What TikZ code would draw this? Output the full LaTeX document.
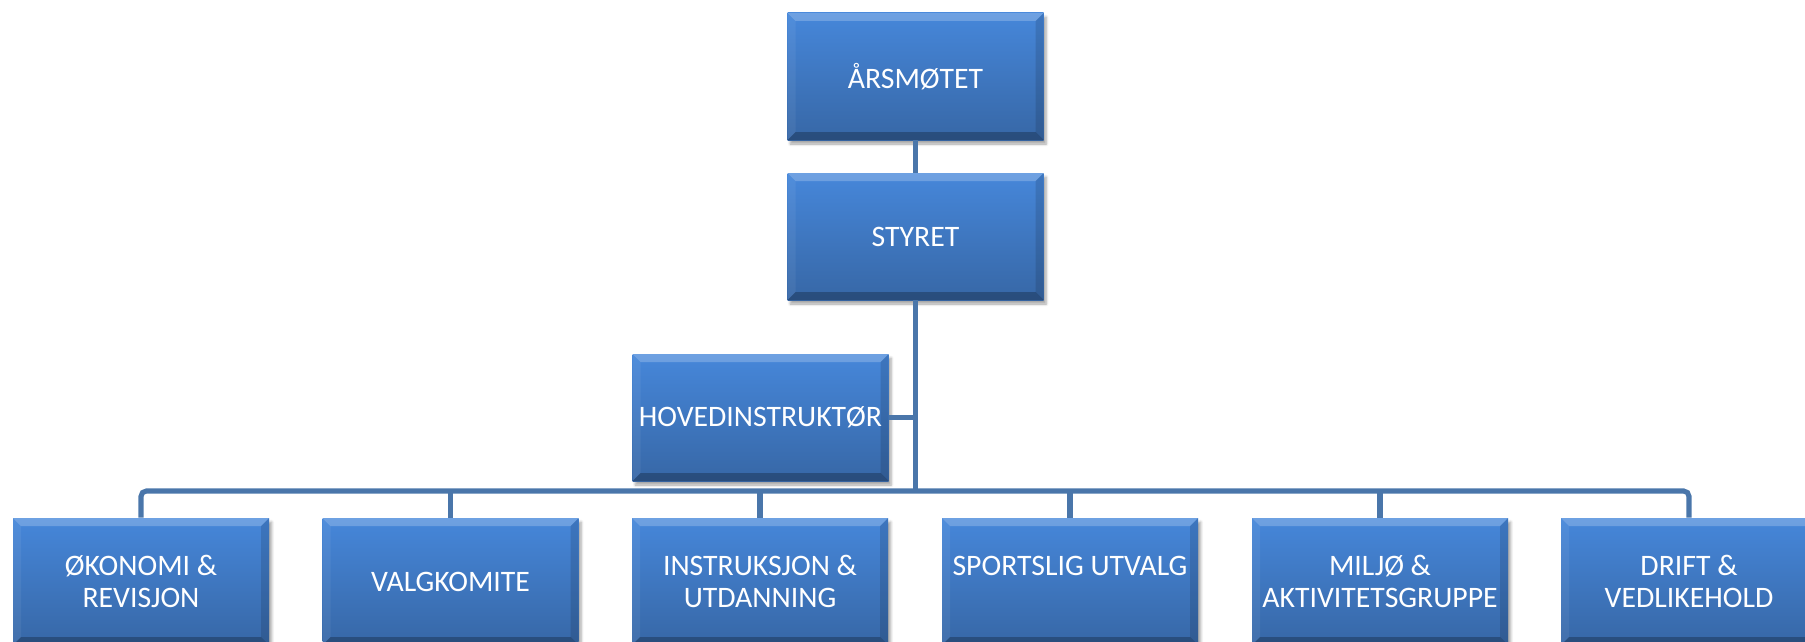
\documentclass[tikz,border=0pt]{standalone}
\usepackage{fontspec}
\setmainfont{Carlito}
\usetikzlibrary{shadows.blur}
\definecolor{boxtop}{HTML}{4687DA}
\definecolor{boxbot}{HTML}{3767A6}
\definecolor{connc}{HTML}{4A76AA}
\tikzset{
  orgbox/.style={rectangle, minimum width=192pt, minimum height=95.25pt, inner sep=0pt,
    align=center, text=white, font=\fontsize{22.3}{24}\selectfont,
    top color=boxtop, bottom color=boxbot,
    blur shadow={shadow xshift=2pt, shadow yshift=-3pt, shadow blur steps=6, shadow opacity=35},
    path picture={
      \coordinate (pnw) at (path picture bounding box.north west);
      \coordinate (pne) at (path picture bounding box.north east);
      \coordinate (psw) at (path picture bounding box.south west);
      \coordinate (pse) at (path picture bounding box.south east);
      \fill[white, opacity=0.22] (pnw) -- (pne) -- ([shift={(-6pt,-6pt)}]pne) -- ([shift={(6pt,-6pt)}]pnw) -- cycle;
      \fill[white, opacity=0.06] (pnw) -- ([shift={(6pt,-6pt)}]pnw) -- ([shift={(6pt,6pt)}]psw) -- (psw) -- cycle;
      \fill[black, opacity=0.12] (pne) -- ([shift={(-6pt,-6pt)}]pne) -- ([shift={(-6pt,6pt)}]pse) -- (pse) -- cycle;
      \fill[black, opacity=0.25] (psw) -- ([shift={(6pt,6pt)}]psw) -- ([shift={(-6pt,6pt)}]pse) -- (pse) -- cycle;
    }},
  conn/.style={draw=connc, line width=3.8pt}
}
\begin{document}
\begin{tikzpicture}[x=0.75pt, y=-0.75pt]
\useasboundingbox (0,0) rectangle (1805,642);
\clip (0,0) rectangle (1805,642);
\node[orgbox] (aars) at (915.5,76.5) {ÅRSMØTET};
\node[orgbox] (styret) at (915.5,236.5) {STYRET};
\node[orgbox] (hoved) at (760.5,417.5) {HOVEDINSTRUKTØR};
\coordinate (bus) at (915.5,491);
\node[orgbox] (b1) at (141,581.5) {ØKONOMI \&\\REVISJON};
\node[orgbox] (b2) at (450.5,581.5) {VALGKOMITE};
\node[orgbox] (b3) at (760,581.5) {INSTRUKSJON \&\\UTDANNING};
\node[orgbox] (b4) at (1070,581.5) {SPORTSLIG UTVALG\\\mbox{}};
\node[orgbox] (b5) at (1380,581.5) {MILJØ \&\\AKTIVITETSGRUPPE};
\node[orgbox] (b6) at (1689,581.5) {DRIFT \&\\VEDLIKEHOLD};
\draw[conn] (aars.south) -- (styret.north);
\draw[conn] (styret.south) -- (bus);
\draw[conn] (hoved.east) -- (hoved.east -| bus);
\draw[conn, rounded corners=4pt] (b1.north) |- (bus) -| (b6.north);
\draw[conn] (b2.north) -- (b2.north |- bus);
\draw[conn] (b3.north) -- (b3.north |- bus);
\draw[conn] (b4.north) -- (b4.north |- bus);
\draw[conn] (b5.north) -- (b5.north |- bus);
\end{tikzpicture}
\end{document}
